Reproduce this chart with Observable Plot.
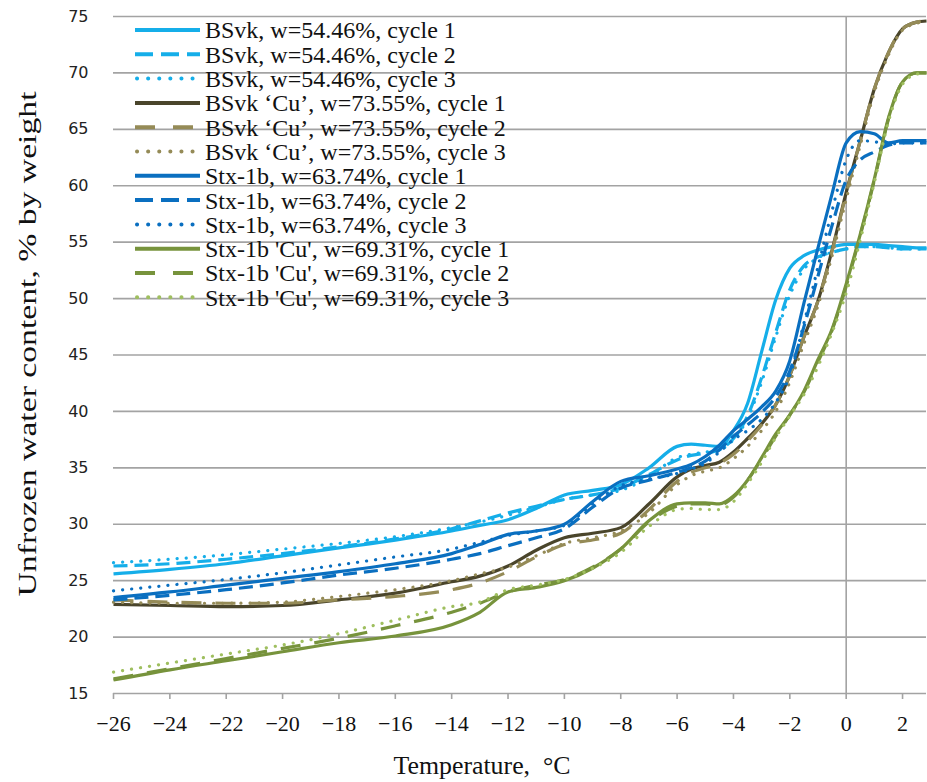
<!DOCTYPE html>
<html><head><meta charset="utf-8">
<script src="https://cdn.jsdelivr.net/npm/d3@7"></script>
<script src="https://cdn.jsdelivr.net/npm/@observablehq/plot@0.6"></script>
<style>
html,body{margin:0;padding:0;background:#fff;}
#wrap{position:relative;width:927px;height:782px;overflow:hidden;}
#legend{position:absolute;left:0;top:0;}
</style></head><body><div id="wrap"></div>
<script>
// Temperature (°C) sample points shared by all series
const temps = [-26,-24,-22,-20,-18,-16,-14,-13,-12,-11,-10,-9,-8,-7,-6,-5.5,-5,-4.5,-4,-3.5,-3,-2.5,-2,-1.5,-1,-0.5,0,0.5,1,1.5,2,2.5,2.85];

// Unfrozen water content, % by weight
const bsvk1 = [25.6,26.0,26.5,27.2,27.9,28.6,29.4,29.9,30.4,31.4,32.6,33.0,33.5,35.0,36.9,37.1,37.0,36.9,38.3,40.7,45.3,49.9,52.7,53.8,54.3,54.6,54.8,54.8,54.8,54.7,54.6,54.5,54.5];
const bsvk2 = [26.3,26.5,26.9,27.4,28.0,28.7,29.6,30.3,31.0,31.6,32.2,32.6,33.2,34.4,35.7,36.1,36.3,36.6,37.6,39.6,43.0,47.0,50.8,52.9,53.7,54.1,54.4,54.6,54.6,54.5,54.4,54.4,54.4];
const bsvk3 = [26.6,26.9,27.3,27.8,28.3,28.9,29.7,30.2,30.8,31.5,32.2,32.6,33.0,34.2,35.9,36.2,36.4,36.6,37.5,39.4,42.6,46.6,50.3,52.6,53.6,54.1,54.4,54.6,54.6,54.5,54.4,54.4,54.4];
const bsvkCu1 = [22.9,22.8,22.7,22.8,23.3,23.9,24.9,25.4,26.3,27.7,28.8,29.2,29.7,31.8,34.2,34.9,35.2,35.5,36.4,37.6,38.9,40.6,43.2,46.6,49.8,54.3,59.4,64.0,68.6,71.8,73.9,74.5,74.6];
const bsvkCu2 = [23.3,23.1,23.0,23.0,23.3,23.6,24.2,24.8,25.8,27.1,28.2,28.6,29.2,31.3,33.8,34.6,35.0,35.4,36.2,37.4,38.8,40.6,43.2,46.6,49.8,54.2,59.3,64.0,68.6,71.8,73.9,74.5,74.6];
const bsvkCu3 = [23.1,23.0,23.0,23.1,23.6,24.2,25.0,25.6,26.2,27.2,28.3,28.8,29.4,31.0,33.5,34.3,34.7,35.0,35.8,36.9,38.3,40.0,42.6,46.0,49.4,53.8,58.8,63.6,68.3,71.6,73.8,74.4,74.6];
const stx1 = [23.5,24.0,24.6,25.2,25.8,26.5,27.4,28.2,29.1,29.4,30.0,32.0,33.8,34.3,34.9,35.3,36.0,37.0,38.3,39.3,40.4,41.8,44.5,49.6,54.5,59.3,63.8,64.8,64.6,63.8,64.0,64.0,64.0];
const stx2 = [23.3,23.7,24.2,24.8,25.5,26.1,26.9,27.4,28.1,28.8,29.6,31.5,33.2,33.9,34.6,35.0,35.6,36.6,37.8,38.8,39.9,41.3,43.6,47.5,52.0,56.5,60.5,62.3,63.0,63.6,63.8,63.8,63.8];
const stx3 = [24.1,24.6,25.1,25.7,26.4,27.1,27.8,28.4,29.0,29.4,29.9,31.8,33.4,34.0,34.5,34.9,35.4,36.4,37.5,38.3,39.3,40.8,43.2,47.8,52.8,57.8,62.3,64.0,63.9,63.7,63.8,63.8,63.8];
const stxCu1 = [16.2,17.1,17.9,18.7,19.5,20.1,21.1,22.2,24.0,24.4,25.0,26.1,27.8,30.3,31.8,31.9,31.9,31.8,32.5,33.9,35.9,38.0,39.7,41.8,44.6,47.3,51.3,55.7,60.6,66.0,69.2,70.0,70.0];
const stxCu2 = [16.3,17.2,18.1,19.0,19.9,21.0,22.2,23.0,24.0,24.6,25.1,26.2,27.8,30.2,31.6,31.8,31.8,31.7,32.4,33.9,35.8,37.8,39.7,41.7,44.4,47.2,51.1,55.6,60.5,65.9,69.2,70.0,70.0];
const stxCu3 = [16.9,17.7,18.5,19.3,20.3,21.5,22.7,23.1,24.2,24.6,25.1,26.1,27.5,29.8,31.3,31.4,31.3,31.3,32.0,33.6,35.5,37.7,39.6,41.5,44.0,47.0,50.5,55.2,60.3,65.7,69.0,69.9,70.0];

const seriesNames = [
  "BSvk, w=54.46%, cycle 1","BSvk, w=54.46%, cycle 2","BSvk, w=54.46%, cycle 3",
  "BSvk \u2018Cu\u2019, w=73.55%, cycle 1","BSvk \u2018Cu\u2019, w=73.55%, cycle 2","BSvk \u2018Cu\u2019, w=73.55%, cycle 3",
  "Stx-1b, w=63.74%, cycle 1","Stx-1b, w=63.74%, cycle 2","Stx-1b, w=63.74%, cycle 3",
  "Stx-1b 'Cu', w=69.31%, cycle 1","Stx-1b 'Cu', w=69.31%, cycle 2","Stx-1b 'Cu', w=69.31%, cycle 3"
];
const seriesValues = [bsvk1,bsvk2,bsvk3,bsvkCu1,bsvkCu2,bsvkCu3,stx1,stx2,stx3,stxCu1,stxCu2,stxCu3];
const seriesColors = ["#15aee9","#15aee9","#15aee9","#4a452b","#958b57","#958b57","#0a6fc0","#0a6fc0","#0a6fc0","#77933c","#77933c","#9fbf5f"];
const seriesStyle = ["solid","dash","dot","solid","long","dot","solid","dash","dot","solid","long","dot"];

const xTicks = [-26,-24,-22,-20,-18,-16,-14,-12,-10,-8,-6,-4,-2,0,2];
const yTicks = [15,20,25,30,35,40,45,50,55,60,65,70,75];
const gridY = [20,25,30,35,40,45,50,55,60,65,70,75];
const xTitle = "Temperature,\u00a0 \u00b0C";
const yTitle = "Unfrozen water content, % by weight";

const rows = seriesValues.map((vals, i) => temps.map((t, j) => ({t, w: vals[j], s: i})));

const chartDash = {solid: null, dash: "14,7", long: "20,14", dot: "0.1,9"};
const legendDash = {solid: null, dash: "18,8", long: "20,18", dot: "0.1,11"};

const gray = "#a3a3a3";
const serif = "'Liberation Serif','Times New Roman',serif";

const lineMarks = rows.map((r, i) => Plot.line(r, {
  x: "t", y: "w", stroke: seriesColors[i], strokeWidth: 3.2,
  strokeDasharray: chartDash[seriesStyle[i]] || undefined,
  strokeLinecap: seriesStyle[i] === "dot" ? "round" : "butt",
  curve: "monotone-x"
}));

const chart = Plot.plot({
  width: 927, height: 782,
  marginLeft: 113, marginRight: 1, marginTop: 16, marginBottom: 89,
  style: {fontFamily: serif, background: "#fff", color: "#111"},
  x: {domain: [-26, 2.85]},
  y: {domain: [15, 75]},
  marks: [
    Plot.ruleY(gridY, {stroke: gray, strokeWidth: 1.6}),
    Plot.ruleX([0], {stroke: gray, strokeWidth: 1.6}),
    Plot.ruleY([15], {stroke: gray, strokeWidth: 1.6}),
    Plot.axisX({ticks: xTicks, tickSize: 6, tickPadding: 16, stroke: gray, strokeWidth: 1.6, fill: "#111",
      fontSize: 22, fontFamily: serif, label: null}),
    Plot.axisY({ticks: yTicks, tickSize: 0, tickPadding: 25, fill: "#222",
      fontSize: 16, fontFamily: "'DejaVu Sans',Verdana,sans-serif", label: null}),
    ...lineMarks,
    Plot.text([xTitle], {frameAnchor: "bottom", dx: -38, dy: 72, fontSize: 25, fontFamily: serif, fill: "#111", lineAnchor: "middle"}),
    Plot.text([yTitle], {frameAnchor: "left", rotate: -90, dx: -86, dy: -11, fontSize: 25, fontFamily: serif, fill: "#111", lineAnchor: "middle"})
  ]
});

chart.querySelectorAll("text").forEach(el => {
  if (el.textContent === xTitle) {
    el.setAttribute("text-anchor", "start");
    el.setAttribute("x", (+el.getAttribute("x") || 0) - 88.5);
    el.setAttribute("textLength", 177); el.setAttribute("lengthAdjust", "spacingAndGlyphs");
  }
  if (el.textContent === yTitle) {
    el.setAttribute("text-anchor", "start");
    el.setAttribute("x", -252.5);
    el.setAttribute("textLength", 505); el.setAttribute("lengthAdjust", "spacingAndGlyphs");
  }
});
chart.querySelectorAll('g[aria-label="x-axis tick label"] text').forEach(el => {
  el.style.fontFamily = serif;
});

const wrap = document.getElementById("wrap");
wrap.appendChild(chart);

// Legend overlay
const leg = d3.select(wrap).append("svg").attr("id", "legend").attr("width", 560).attr("height", 320);
seriesNames.forEach((name, i) => {
  const y = 30 + i * 24.3;
  const st = seriesStyle[i];
  leg.append("line").attr("x1", st === "dot" ? 137 : 135).attr("x2", 200).attr("y1", y).attr("y2", y)
    .attr("stroke", seriesColors[i]).attr("stroke-width", 4)
    .attr("stroke-linecap", st === "dot" ? "round" : "butt")
    .attr("stroke-dasharray", legendDash[st]);
  leg.append("text").attr("x", 205).attr("y", y).attr("dy", "0.35em")
    .style("font-family", serif).attr("font-size", 24).attr("fill", "#111").text(name);
});
</script>
</body></html>
